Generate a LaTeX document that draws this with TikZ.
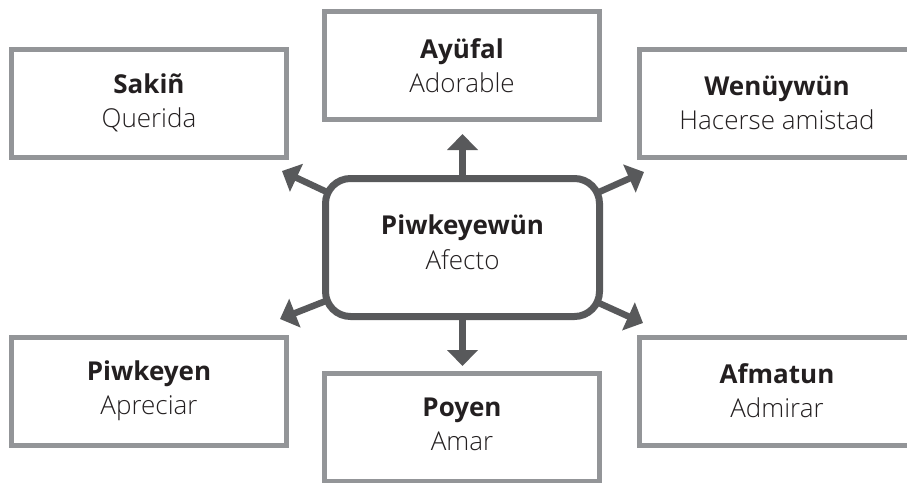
\documentclass[tikz,border=0pt]{standalone}
\usepackage{fontspec}
\usetikzlibrary{arrows.meta,backgrounds}
\IfFontExistsTF{Open Sans Light}{\newfontfamily\lightf{Open Sans Light}}{\newfontfamily\lightf{Open Sans}}
\newfontfamily\boldfam{Open Sans}
\newcommand\boldf{\boldfam\bfseries}
\definecolor{leafgray}{HTML}{939598}
\definecolor{hubgray}{HTML}{58595B}
\definecolor{ink}{HTML}{231F20}
\tikzset{
  leaf/.style={draw=leafgray, line width=5pt, fill=white, minimum width=275pt,
    minimum height=108pt, inner sep=0pt, align=center, text=ink,
    font=\fontsize{26}{34}\selectfont},
  hub/.style={draw=hubgray, line width=7pt, fill=white, rounded corners=25pt,
    minimum width=274pt, minimum height=138pt, inner sep=0pt},
  hubtext/.style={align=center, text=ink, inner sep=0pt, yshift=5pt,
    font=\fontsize{26}{35}\selectfont},
  arr/.style={draw=hubgray, line width=6.5pt, -{Triangle[length=16pt,width=30pt]}}
}
\begin{document}
\begin{tikzpicture}[x=1pt,y=-1pt]
\useasboundingbox (0,0) rectangle (907,482);
\clip (0,0) rectangle (907,482);
% leaves
\node[leaf] (sakin) at (149,103) {{\boldf Sakiñ}\\{\lightf Querida}};
\node[leaf] (ayufal) at (462,65.5) {{\boldf Ayüfal}\\{\lightf Adorable}};
\node[leaf] (wenuy) at (777,103) {{\boldf Wenüywün}\\{\lightf Hacerse amistad}};
\node[leaf] (piwkeyen) at (149,391) {{\boldf Piwkeyen}\\{\lightf Apreciar}};
\node[leaf] (poyen) at (462,427.5) {{\boldf Poyen}\\{\lightf Amar}\\[-27pt]\mbox{}};
\node[leaf] (afmatun) at (777,391) {{\boldf Afmatun}\\{\lightf Admirar}};
% hub
\node[hub, label={[hubtext]center:{{\boldf Piwkeyewün}\\{\lightf Afecto}}}] (hub) at (462.5,247.5) {};
% arrow end points
\coordinate (tUL) at (282,171);
\coordinate (tUR) at (644,172);
\coordinate (tLL) at (280,319);
\coordinate (tLR) at (643,323);
\coordinate (tUp) at (462.5,134);
\coordinate (tDn) at (462.5,366);
\coordinate (sUL) at (346,201);
\coordinate (sUR) at (579,201);
\coordinate (sLL) at (346,293);
\coordinate (sLR) at (579,294);
\begin{scope}[on background layer]
\draw[arr] (sUL) -- (tUL);
\draw[arr] (sUR) -- (tUR);
\draw[arr] (sLL) -- (tLL);
\draw[arr] (sLR) -- (tLR);
\end{scope}
\draw[arr] (hub.north) -- (tUp);
\draw[arr] (hub.south) -- (tDn);
\end{tikzpicture}
\end{document}
